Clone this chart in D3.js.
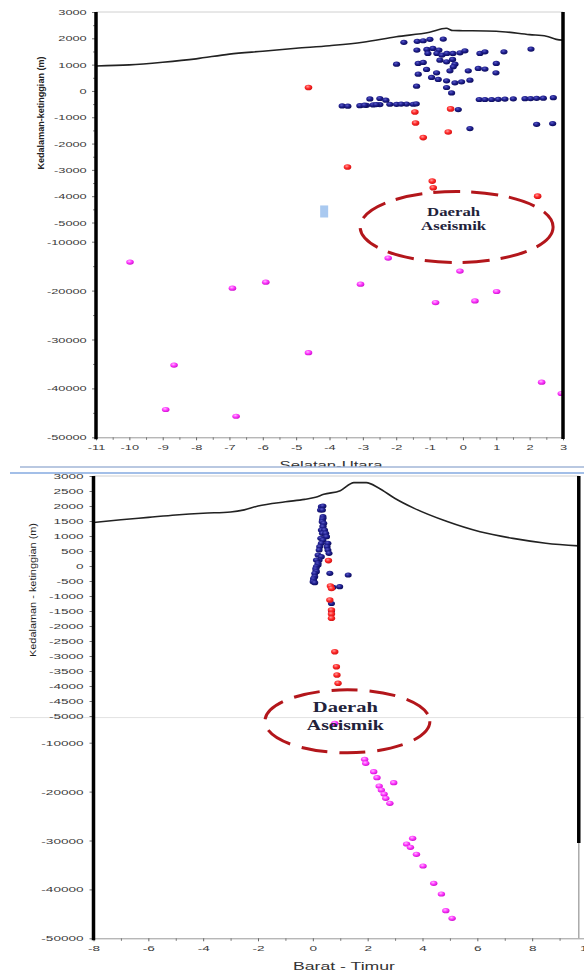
<!DOCTYPE html>
<html><head><meta charset="utf-8">
<script src="https://cdn.jsdelivr.net/npm/d3@7"></script>
<style>body{margin:0;background:#fff}svg{display:block}</style>
</head><body>
<svg id="c" width="584" height="972"></svg>
<script>
// ---------- DATA: panel 1 (Selatan-Utara) ----------
const nsTopo = [[-11,950],[-10,990],[-9,1090],[-8,1220],[-7,1400],[-6,1510],[-5,1620],[-4,1720],[-3,1850],[-2,2060],[-1,2230],[-0.5,2380],[-0.3,2295],[0,2290],[1,2270],[2,2140],[2.5,2080],[2.8,1960],[3,1930]];
const nsBlue = [[-1.77,1846],[-1.37,1884],[-1.19,1907],[-0.99,1960],[-0.59,1971],
 [-1.38,1552],[-1.08,1579],[-0.90,1617],[-0.72,1552],[-1.05,1427],[-0.78,1427],[-0.63,1362],[-0.48,1427],[-0.30,1427],[-0.09,1450],[0.06,1526],[0.51,1427],[0.66,1488],[1.23,1488],[2.04,1590],
 [-1.99,1019],[-1.34,1046],[-1.19,1084],[-0.69,1171],[-0.49,1107],[-0.31,1198],[-0.24,1019],[-0.29,917],[1.0,1046],
 [-1.34,638],[-1.09,817],[-0.79,688],[-0.39,764],[0.16,764],[0.46,855],[0.66,829],[0.99,688],
 [-0.94,512],[-0.74,436],[-0.49,383],[-0.24,307],[-0.04,345],[0.21,410],
 [-1.39,181],[-0.49,131],[-0.34,-74],
 [-3.62,-570],[-3.45,-580],[-3.09,-560],[-2.89,-545],[-2.69,-530],[-2.49,-520],[-2.19,-505],[-1.99,-510],[-1.69,-500],[-1.49,-505],[-1.40,-490],[-2.95,-540],[-2.6,-520],[-1.85,-500],
 [-2.79,-303],[-2.49,-288],[-2.31,-352],
 [0.49,-326],[0.66,-326],[0.86,-326],[1.06,-320],[1.26,-310],[1.51,-300],[1.86,-295],[2.03,-290],[2.21,-280],[2.41,-275],[2.71,-255],
 [-0.14,-707],[0.21,-1431],[2.21,-1267],[2.69,-1240]];
const nsRed = [[-4.63,131],[-1.44,-798],[-0.37,-683],[-1.42,-1217],[-1.19,-1773],[-0.44,-1560],[-3.46,-2893],[-0.92,-3427],[-0.89,-3680],[2.24,-3998]];
const nsMagenta = [[-9.98,-14164],[-6.91,-19503],[-5.91,-18271],[-8.66,-35231],[-8.91,-44318],[-6.80,-45692],[-2.24,-13350],[-3.07,-18682],[-0.09,-16010],[-0.82,-22445],[0.36,-22103],[1.01,-20188],[-4.63,-32700],[2.36,-38718],[2.95,-41039]];
const nsXTicks = [-11,-10,-9,-8,-7,-6,-5,-4,-3,-2,-1,0,1,2,3];
const nsXMinor = [-10.5,-9.5,-8.5,-7.5,-6.5,-5.5,-4.5,-3.5,-2.5,-1.5,-0.5,0.5,1.5,2.5];
const nsYTicks = [3000,2000,1000,0,-1000,-2000,-3000,-4000,-5000,-10000,-20000,-30000,-40000,-50000];
const nsYMinor = [2500,1500,500,-500,-1500,-2500,-3500,-4500,-15000,-25000,-35000,-45000];

// ---------- DATA: panel 2 (Barat - Timur) ----------
const ewTopo = [[-8,1450],[-7,1540],[-6,1620],[-5,1700],[-4,1760],[-3,1800],[-2.5,1870],[-2,2000],[-1,2140],[-0.3,2220],[0.1,2290],[0.4,2390],[1.0,2510],[1.5,2780],[1.95,2780],[2.4,2600],[3,2250],[3.7,1920],[4.9,1480],[6.1,1140],[7.3,920],[8.5,760],[9.7,670]];
const ewBlue = [[0.31,1977],[0.37,2000],[0.28,1867],[0.35,1867],[0.37,1643],[0.37,1590],[0.35,1533],[0.34,1477],[0.40,1423],[0.37,1333],[0.37,1310],[0.31,1200],[0.43,1200],[0.35,1090],[0.47,1090],[0.50,977],[0.29,923],[0.37,867],[0.31,757],[0.55,757],[0.25,643],[0.52,643],[0.23,533],[0.55,533],[0.59,423],[0.19,367],[0.31,310],[0.23,200],[0.13,200],[0.19,90],[0.19,33],[0.13,-23],[0.11,-77],[0.11,-133],[0.13,-190],[0.07,-243],[0.07,-357],[0.03,-410],[0.03,-467],[0.01,-523],[0.07,-557],[0.62,-243],[1.29,-300],[0.98,-690],[0.74,-710],[0.68,-1250],[0.68,-1500]];
const ewRed = [[0.57,180],[0.64,-667],[0.68,-750],[0.62,-1133],[0.68,-1467],[0.68,-1600],[0.68,-1743],[0.80,-2857],[0.86,-3357],[0.88,-3633],[0.92,-3910]];
const ewMagenta = [[0.80,-6390],[1.89,-13395],[1.93,-14213],[2.22,-15930],[2.34,-17157],[2.95,-18180],[2.42,-18855],[2.50,-19673],[2.60,-20491],[2.66,-21370],[2.81,-22393],[3.64,-29550],[3.42,-30716],[3.56,-31390],[3.78,-32822],[4.02,-35215],[4.41,-38753],[4.69,-40941],[4.85,-44356],[5.08,-45913]];
const ewXTicks = [-8,-6,-4,-2,0,2,4,6,8,10];
const ewXMinor = [-7,-5,-3,-1,1,3,5,7,9];
const ewYTicks = [3000,2500,2000,1500,1000,500,0,-500,-1000,-1500,-2000,-2500,-3000,-3500,-4000,-4500,-5000,-10000,-20000,-30000,-40000,-50000];
const ewYMinor = [];

const svg = d3.select("#c");
const defs = svg.append("defs");
function grad(id, c0, c1, c2){
  const g = defs.append("radialGradient").attr("id",id).attr("cx","40%").attr("cy","35%").attr("r","65%");
  g.append("stop").attr("offset","0%").attr("stop-color",c0);
  g.append("stop").attr("offset","50%").attr("stop-color",c1);
  g.append("stop").attr("offset","100%").attr("stop-color",c2);
}
grad("gBlue","#5a5ac8","#20208f","#0c0c5c");
grad("gRed","#ff9a9a","#ff2b2b","#d41212");
grad("gMag","#ffb8ff","#ff3cff","#d012d0");

function panel(o){
  const x = d3.scaleLinear().domain(o.xDom).range(o.xRange);
  const y = d3.scaleLinear().domain([3000,-5000,-10000,-50000]).range(o.yRange);
  const g = svg.append("g");
  const top = o.yRange[0], bot = o.yRange[3];
  const left = o.xRange[0], right = x(o.rightVal);
  const cid = "clip"+o.id;
  defs.append("clipPath").attr("id",cid).append("rect")
    .attr("x",left).attr("y",top).attr("width",right-left).attr("height",bot-top);

  // top frame
  g.append("line").attr("x1",left).attr("x2",right).attr("y1",top).attr("y2",top)
    .attr("stroke","#d0d0d0").attr("stroke-width",1);
  if(o.midLine){
    g.append("line").attr("x1",10).attr("x2",584).attr("y1",y(o.midLine)).attr("y2",y(o.midLine))
      .attr("stroke","#e2e2e2").attr("stroke-width",1);
  }
  const pg = g.append("g").attr("clip-path","url(#"+cid+")");
  // topography
  pg.append("path").datum(o.topo)
    .attr("d", d3.line().x(d=>x(d[0])).y(d=>y(d[1])).curve(d3.curveMonotoneX))
    .attr("fill","none").attr("stroke","#222").attr("stroke-width",1.6);
  // extra rect
  if(o.rect){
    pg.append("rect").attr("x",x(o.rect[0])).attr("y",y(o.rect[1]))
      .attr("width",x(o.rect[2])-x(o.rect[0])).attr("height",y(o.rect[3])-y(o.rect[1]))
      .attr("fill","#a9c9f0");
  }
  function dots(data, fill, rx, ry){
    pg.append("g").selectAll("ellipse").data(data).join("ellipse")
      .attr("cx",d=>x(d[0])).attr("cy",d=>y(d[1])).attr("rx",rx).attr("ry",ry)
      .attr("fill",fill);
  }
  dots(o.blue,"url(#gBlue)",o.r[0],o.r[1]);
  dots(o.red,"url(#gRed)",o.r[0]+0.2,o.r[1]+0.2);
  dots(o.mag,"url(#gMag)",o.r[0]+0.2,o.r[1]);

  // annotation ellipse
  const ex = x(o.ell[0]), ey = y(o.ell[1]);
  g.append("ellipse").attr("cx",ex).attr("cy",ey).attr("rx",o.ell[2]).attr("ry",o.ell[3])
    .attr("fill","none").attr("stroke","#b3161b").attr("stroke-width",3)
    .attr("stroke-dasharray",o.dash);
  const tx = g.append("g").attr("font-family","'Liberation Serif','Times New Roman',serif")
    .attr("font-weight","bold").attr("font-size",o.ellFont).attr("fill","#22223a").attr("text-anchor","middle");
  tx.append("text").attr("x",ex+o.ellText[0]).attr("y",ey+o.ellText[1]).text("Daerah")
    .attr("textLength",o.ellText[2]).attr("lengthAdjust","spacingAndGlyphs");
  tx.append("text").attr("x",ex+o.ellText[0]).attr("y",ey+o.ellText[3]).text("Aseismik")
    .attr("textLength",o.ellText[4]).attr("lengthAdjust","spacingAndGlyphs");

  // axes
  const fmt = d => String(d);
  const ya = g.append("g").attr("transform","translate("+left+",0)")
    .call(d3.axisLeft(y).tickValues(o.yTicks).tickSize(4).tickPadding(1.8).tickFormat(fmt));
  ya.select(".domain").remove();
  ya.selectAll(".tick line").attr("stroke","#777");
  ya.selectAll(".tick text").attr("font-family","'Liberation Sans',Arial,sans-serif")
    .attr("font-size",8).attr("fill","#3a3a3a").attr("transform","scale("+o.sx+",1)");
  const ym = g.append("g").attr("transform","translate("+left+",0)")
    .call(d3.axisLeft(y).tickValues(o.yMinor).tickSize(3).tickFormat(""));
  ym.select(".domain").remove(); ym.selectAll(".tick line").attr("stroke","#888");

  const xa = g.append("g").attr("transform","translate(0,"+bot+")")
    .call(d3.axisBottom(x).tickValues(o.xTicks).tickSize(3).tickSizeOuter(0).tickPadding(4).tickFormat(fmt));
  xa.select(".domain").attr("stroke","#999");
  xa.selectAll(".tick line").attr("stroke","#666");
  xa.selectAll(".tick text").attr("font-family","'Liberation Sans',Arial,sans-serif")
    .attr("font-size",8).attr("fill","#3a3a3a").attr("transform","scale("+o.sx+",1)");
  const xm = g.append("g").attr("transform","translate(0,"+bot+")")
    .call(d3.axisBottom(x).tickValues(o.xMinor).tickSize(2.5).tickFormat(""));
  xm.select(".domain").remove(); xm.selectAll(".tick line").attr("stroke","#777");

  // thick frame lines
  g.append("line").attr("x1",left).attr("x2",left).attr("y1",top).attr("y2",bot+2)
    .attr("stroke","#000").attr("stroke-width",3.5);
  g.append("line").attr("x1",right).attr("x2",right).attr("y1",top).attr("y2",o.rightThickEnd)
    .attr("stroke","#000").attr("stroke-width",3.5);
  if(o.rightThickEnd < bot){
    g.append("line").attr("x1",right).attr("x2",right).attr("y1",o.rightThickEnd).attr("y2",bot)
      .attr("stroke","#aaa").attr("stroke-width",1.5);
  }

  // titles
  const lab = g.append("g").attr("font-family","'Liberation Sans',Arial,sans-serif").attr("fill","#333");
  lab.append("text").attr("x",o.xTitle[0]).attr("y",o.xTitle[1]).attr("text-anchor","middle")
    .attr("font-size",o.xTitle[3]).text(o.xTitleText)
    .attr("textLength",o.xTitle[2]).attr("lengthAdjust","spacingAndGlyphs");
  lab.append("text").attr("transform","translate("+o.yTitle[0]+","+o.yTitle[1]+") rotate(-90)")
    .attr("text-anchor","middle").attr("font-size",9.5).attr("font-weight",o.yTitleBold?"bold":"normal")
    .attr("fill","#222").text(o.yTitleText)
    .attr("textLength",o.yTitle[2]).attr("lengthAdjust","spacingAndGlyphs");
}

panel({id:"ns", xDom:[-11,3], xRange:[96,563], yRange:[12,222.5,241.7,437.3], rightVal:3,
  topo:nsTopo, blue:nsBlue, red:nsRed, mag:nsMagenta, r:[3.6,2.6],
  xTicks:nsXTicks, xMinor:nsXMinor, yTicks:nsYTicks, yMinor:nsYMinor, sx:1.6,
  rect:[-4.28,-4352,-4.04,-4810],
  ell:[-0.19,-6172,96.5,35.5], dash:"27,11", ellFont:12, ellText:[-3,-11,53,3,65],
  rightThickEnd:439,
  xTitle:[331,469,103,11], xTitleText:"Selatan-Utara",
  yTitle:[44,113,113], yTitleText:"Kedalaman-ketinggian (m)", yTitleBold:true});

panel({id:"ew", xDom:[-8,10], xRange:[93.5,587], yRange:[476,716,742.7,938.3], rightVal:9.7,
  topo:ewTopo, blue:ewBlue, red:ewRed, mag:ewMagenta, r:[3.5,2.6],
  xTicks:ewXTicks, xMinor:ewXMinor, yTicks:ewYTicks, yMinor:ewYMinor, sx:1.7,
  midLine:-5300,
  ell:[1.26,-5993,82.5,31.5], dash:"26,12", ellFont:14, ellText:[-2,-9,65,9,77],
  rightThickEnd:843,
  xTitle:[344,970,102,10.5], xTitleText:"Barat - Timur",
  yTitle:[36,590,134], yTitleText:"Kedalaman - ketinggian (m)", yTitleBold:false});

// separator between the two panels
svg.append("rect").attr("x",0).attr("y",466.5).attr("width",584).attr("height",7).attr("fill","#fff");
svg.append("line").attr("x1",20).attr("x2",584).attr("y1",467).attr("y2",467).attr("stroke","#7592c4").attr("stroke-width",1.2);
svg.append("line").attr("x1",10).attr("x2",584).attr("y1",473).attr("y2",473).attr("stroke","#a3bfe8").attr("stroke-width",2.2);
</script>
</body></html>
